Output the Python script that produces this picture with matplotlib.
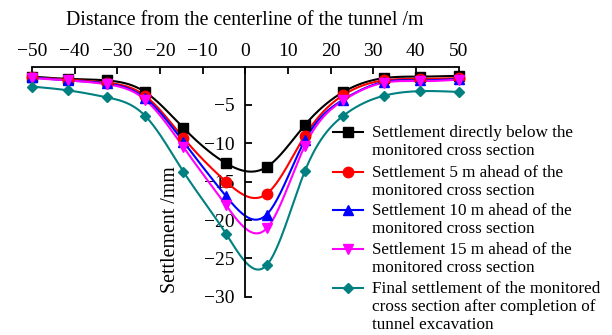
import numpy as np
import matplotlib
matplotlib.use("Agg")
import matplotlib.pyplot as plt
from matplotlib.lines import Line2D

plt.rcParams['font.family'] = ['Liberation Serif', 'DejaVu Serif']
plt.rcParams['axes.unicode_minus'] = True

x = [-50, -41.5, -32.5, -23.5, -14.5, -4.5, 5, 14, 23, 32.5, 41, 50]
s_below = [-1.3, -1.6, -1.8, -3.3, -8.0, -12.6, -13.1, -7.6, -3.3, -1.5, -1.3, -1.2]
s_5m = [-1.4, -1.7, -2.1, -3.8, -9.3, -15.0, -16.6, -9.0, -3.7, -1.8, -1.6, -1.5]
s_10m = [-1.4, -1.8, -2.2, -4.1, -9.8, -16.9, -19.3, -9.6, -4.3, -2.0, -1.8, -1.6]
s_15m = [-1.5, -1.8, -2.3, -4.3, -10.5, -18.1, -21.1, -10.3, -4.4, -2.1, -1.9, -1.7]
s_final = [-2.6, -3.1, -4.0, -6.4, -13.7, -21.8, -25.9, -13.6, -6.4, -3.8, -3.2, -3.3]

labels = ["Settlement directly below the\nmonitored cross section",
          "Settlement 5 m ahead of the\nmonitored cross section",
          "Settlement 10 m ahead of the\nmonitored cross section",
          "Settlement 15 m ahead of the\nmonitored cross section",
          "Final settlement of the monitored\ncross section after completion of\ntunnel excavation"]
xticks = [-50, -40, -30, -20, -10, 0, 10, 20, 30, 40, 50]
yticks = [-5, -10, -15, -20, -25, -30]

series = [s_below, s_5m, s_10m, s_15m, s_final]
colors = ['black', '#ff0000', '#0000ff', '#ff00ff', '#008080']
markers = ['s', 'o', '^', 'v', 'D']
msizes = [7, 7.5, 7.5, 7.5, 5.5]


def natural_spline(xs, ys, xn):
    xs = np.asarray(xs, float); ys = np.asarray(ys, float)
    n = len(xs)
    h = np.diff(xs)
    A = np.zeros((n, n)); b = np.zeros(n)
    A[0, 0] = 1; A[-1, -1] = 1
    for i in range(1, n - 1):
        A[i, i - 1] = h[i - 1]
        A[i, i] = 2 * (h[i - 1] + h[i])
        A[i, i + 1] = h[i]
        b[i] = 6 * ((ys[i + 1] - ys[i]) / h[i] - (ys[i] - ys[i - 1]) / h[i - 1])
    M = np.linalg.solve(A, b)
    idx = np.clip(np.searchsorted(xs, xn) - 1, 0, n - 2)
    x0 = xs[idx]; x1 = xs[idx + 1]; hh = x1 - x0
    t0 = x1 - xn; t1 = xn - x0
    return (M[idx] * t0**3 / (6 * hh) + M[idx + 1] * t1**3 / (6 * hh)
            + (ys[idx] / hh - M[idx] * hh / 6) * t0
            + (ys[idx + 1] / hh - M[idx + 1] * hh / 6) * t1)


fig = plt.figure(figsize=(6.12, 3.35), dpi=100)
top_px, bot_px, left_px, right_px = 67.0, 296.7, 32.0, 458.5
ax = fig.add_axes([left_px/612, 1 - bot_px/335, (right_px - left_px)/612, (bot_px - top_px)/335])

xn = np.linspace(min(x), max(x), 600)
for ys, c, m, ms in zip(series, colors, markers, msizes):
    ax.plot(xn, natural_spline(x, ys, xn), color=c, lw=1.5, clip_on=False)
    ax.plot(x, ys, ls='none', marker=m, color=c, ms=ms, clip_on=False, zorder=3)

ax.set_xlim(-50, 50)
ax.set_ylim(-30, -0.05)
ax.spines['left'].set_position(('data', 0))
ax.spines['right'].set_visible(False)
ax.spines['bottom'].set_visible(False)
for sp in ax.spines.values():
    sp.set_linewidth(1.3)
ax.xaxis.tick_top()
ax.xaxis.set_label_position('top')
ax.set_xticks(xticks)
ax.set_yticks(yticks)
ax.tick_params(axis='both', direction='in', length=5, width=1.3, labelsize=14)
ax.tick_params(axis='x', pad=5)
ax.tick_params(axis='y', pad=8)
ax.set_xlabel("Distance from the centerline of the tunnel /m", fontsize=14.3, labelpad=13)
ax.set_ylabel("Settlement /mm", fontsize=14.3)
ax.yaxis.set_label_coords((180 - left_px) / (right_px - left_px), (bot_px - 230) / (bot_px - top_px))

# legend drawn manually (handles aligned with first line of each entry)
leg_y = [132, 172, 210, 249, 288]
for yy, lab, c, m, ms in zip(leg_y, labels, colors, markers, msizes):
    fy = 1 - yy / 335
    fig.add_artist(Line2D([333/612, 363/612], [fy, fy], color=c, lw=1.5,
                          transform=fig.transFigure))
    fig.add_artist(Line2D([348/612], [fy], color=c, marker=m, ms=ms,
                          transform=fig.transFigure))
    fig.text(372/612, fy + 7/335, lab, fontsize=12.3, va='top', ha='left',
             linespacing=1.17)

fig.savefig("out.png", dpi=100)
